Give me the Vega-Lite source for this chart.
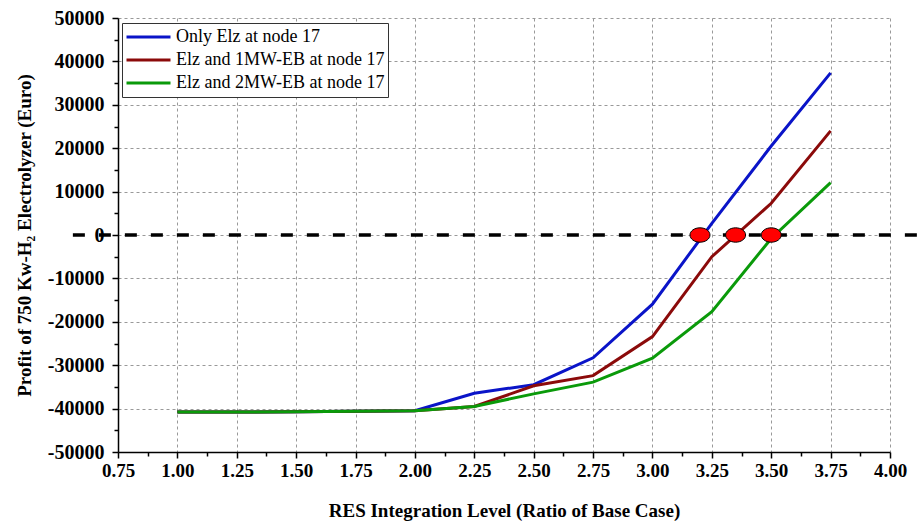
{
  "$schema": "https://vega.github.io/schema/vega-lite/v6.json",
  "autosize": {"type": "none"},
  "padding": {"left": 118, "top": 18, "right": 27, "bottom": 69},
  "width": 772,
  "height": 434,
  "background": "white",
  "config": {
    "view": {"stroke": null},
    "font": "Liberation Serif",
    "axis": {"labelFont": "Liberation Serif", "titleFont": "Liberation Serif"},
    "legend": {"labelFont": "Liberation Serif"}
  },
  "datasets": {
    "lines": [
      {"level": 1.0, "profit": -40800, "series": "Only Elz at node 17"},
      {"level": 1.25, "profit": -40800, "series": "Only Elz at node 17"},
      {"level": 1.5, "profit": -40700, "series": "Only Elz at node 17"},
      {"level": 1.75, "profit": -40600, "series": "Only Elz at node 17"},
      {"level": 2.0, "profit": -40500, "series": "Only Elz at node 17"},
      {"level": 2.25, "profit": -36450, "series": "Only Elz at node 17"},
      {"level": 2.5, "profit": -34500, "series": "Only Elz at node 17"},
      {"level": 2.75, "profit": -28300, "series": "Only Elz at node 17"},
      {"level": 3.0, "profit": -15950, "series": "Only Elz at node 17"},
      {"level": 3.25, "profit": 2700, "series": "Only Elz at node 17"},
      {"level": 3.5, "profit": 20500, "series": "Only Elz at node 17"},
      {"level": 3.75, "profit": 37350, "series": "Only Elz at node 17"},
      {"level": 1.0, "profit": -40800, "series": "Elz and 1MW-EB at node 17"},
      {"level": 1.25, "profit": -40800, "series": "Elz and 1MW-EB at node 17"},
      {"level": 1.5, "profit": -40700, "series": "Elz and 1MW-EB at node 17"},
      {"level": 1.75, "profit": -40600, "series": "Elz and 1MW-EB at node 17"},
      {"level": 2.0, "profit": -40500, "series": "Elz and 1MW-EB at node 17"},
      {"level": 2.25, "profit": -39500, "series": "Elz and 1MW-EB at node 17"},
      {"level": 2.5, "profit": -34750, "series": "Elz and 1MW-EB at node 17"},
      {"level": 2.75, "profit": -32400, "series": "Elz and 1MW-EB at node 17"},
      {"level": 3.0, "profit": -23400, "series": "Elz and 1MW-EB at node 17"},
      {"level": 3.25, "profit": -5000, "series": "Elz and 1MW-EB at node 17"},
      {"level": 3.5, "profit": 7300, "series": "Elz and 1MW-EB at node 17"},
      {"level": 3.75, "profit": 24000, "series": "Elz and 1MW-EB at node 17"},
      {"level": 1.0, "profit": -40800, "series": "Elz and 2MW-EB at node 17"},
      {"level": 1.25, "profit": -40800, "series": "Elz and 2MW-EB at node 17"},
      {"level": 1.5, "profit": -40700, "series": "Elz and 2MW-EB at node 17"},
      {"level": 1.75, "profit": -40600, "series": "Elz and 2MW-EB at node 17"},
      {"level": 2.0, "profit": -40500, "series": "Elz and 2MW-EB at node 17"},
      {"level": 2.25, "profit": -39500, "series": "Elz and 2MW-EB at node 17"},
      {"level": 2.5, "profit": -36600, "series": "Elz and 2MW-EB at node 17"},
      {"level": 2.75, "profit": -33900, "series": "Elz and 2MW-EB at node 17"},
      {"level": 3.0, "profit": -28400, "series": "Elz and 2MW-EB at node 17"},
      {"level": 3.25, "profit": -17650, "series": "Elz and 2MW-EB at node 17"},
      {"level": 3.5, "profit": -800, "series": "Elz and 2MW-EB at node 17"},
      {"level": 3.75, "profit": 12050, "series": "Elz and 2MW-EB at node 17"}
    ],
    "zero": [{"x1": 0.56, "x2": 4.114, "y": 0}],
    "cross": [
      {"level": 3.2, "profit": 0},
      {"level": 3.35, "profit": 0},
      {"level": 3.5, "profit": 0}
    ]
  },
  "resolve": {"axis": {"x": "independent", "y": "independent"}},
  "layer": [
    {
      "data": {"name": "lines"},
      "mark": {"type": "line", "strokeWidth": 3},
      "encoding": {
        "x": {
          "field": "level", "type": "quantitative",
          "scale": {"domain": [0.75, 4.0], "nice": false, "zero": false},
          "axis": {
            "orient": "bottom",
            "values": [0.75, 1.0, 1.25, 1.5, 1.75, 2.0, 2.25, 2.5, 2.75, 3.0, 3.25, 3.5, 3.75, 4.0],
            "format": ".2f",
            "title": "RES Integration Level (Ratio of Base Case)",
            "titleFont": "Liberation Serif",
            "titleFontSize": 19, "titleFontWeight": "bold", "titleColor": "black", "titlePadding": 21,
            "labelFont": "Liberation Serif",
            "labelFontSize": 19, "labelFontWeight": "bold", "labelColor": "black", "labelPadding": 3,
            "labelFlush": false, "labelOverlap": false,
            "domainColor": "black", "domainWidth": 1.5,
            "tickColor": "black", "tickSize": 6, "tickWidth": 1.5,
            "grid": true, "gridColor": "#999999", "gridDash": [3, 3], "gridWidth": 1
          }
        },
        "y": {
          "field": "profit", "type": "quantitative",
          "scale": {"domain": [-50000, 50000], "nice": false},
          "axis": {
            "orient": "left",
            "values": [-50000, -40000, -30000, -20000, -10000, 0, 10000, 20000, 30000, 40000, 50000],
            "labelExpr": "datum.value < 0 ? '-' + abs(datum.value) : '' + datum.value",
            "title": "Profit of 750 Kw-H₂ Electrolyzer (Euro)",
            "titleFont": "Liberation Serif",
            "titleFontSize": 19, "titleFontWeight": "bold", "titleColor": "black", "titlePadding": 13,
            "labelFont": "Liberation Serif",
            "labelFontSize": 20, "labelFontWeight": "bold", "labelColor": "black", "labelPadding": 8,
            "labelFlush": false, "labelOverlap": false,
            "domainColor": "black", "domainWidth": 1.5,
            "tickColor": "black", "tickSize": 6, "tickWidth": 1.5,
            "grid": true, "gridColor": "#999999", "gridDash": [3, 3], "gridWidth": 1
          }
        },
        "color": {
          "field": "series", "type": "nominal",
          "sort": ["Only Elz at node 17", "Elz and 1MW-EB at node 17", "Elz and 2MW-EB at node 17"],
          "scale": {
            "domain": ["Only Elz at node 17", "Elz and 1MW-EB at node 17", "Elz and 2MW-EB at node 17"],
            "range": ["#0a14c8", "#8b0a0a", "#0a9a0a"]
          },
          "legend": {
            "orient": "none", "legendX": 4, "legendY": 5,
            "title": null,
            "fillColor": "white", "strokeColor": "#333333", "padding": 3,
            "symbolType": "stroke", "symbolSize": 1936, "symbolStrokeWidth": 3,
            "clipHeight": 22,
            "labelFont": "Liberation Serif", "labelFontSize": 18, "labelColor": "black",
            "labelOffset": 4, "rowPadding": 1, "labelLimit": 400
          }
        },
        "order": {"field": "level", "type": "quantitative"}
      }
    },
    {
      "data": {"name": "zero"},
      "mark": {"type": "rule", "color": "black", "strokeWidth": 3.5, "strokeDash": [12, 14]},
      "encoding": {
        "x": {
          "field": "x1", "type": "quantitative",
          "axis": {
            "orient": "bottom",
            "values": [0.875, 1.125, 1.375, 1.625, 1.875, 2.125, 2.375, 2.625, 2.875, 3.125, 3.375, 3.625, 3.875],
            "labels": false, "domain": false, "grid": false, "title": null,
            "tickColor": "black", "tickSize": 4, "tickWidth": 1.5
          }
        },
        "x2": {"field": "x2"},
        "y": {
          "field": "y", "type": "quantitative",
          "axis": {
            "orient": "left",
            "values": [-45000, -35000, -25000, -15000, -5000, 5000, 15000, 25000, 35000, 45000],
            "labels": false, "domain": false, "grid": false, "title": null,
            "tickColor": "black", "tickSize": 4, "tickWidth": 1.5
          }
        }
      }
    },
    {
      "data": {"name": "cross"},
      "mark": {
        "type": "point", "filled": true, "fill": "#ff0000", "stroke": "black", "strokeWidth": 1,
        "opacity": 1, "size": 400,
        "shape": "M -1 0 A 1 0.72 0 1 0 1 0 A 1 0.72 0 1 0 -1 0 Z"
      },
      "encoding": {
        "x": {"field": "level", "type": "quantitative", "axis": null},
        "y": {"field": "profit", "type": "quantitative", "axis": null}
      }
    }
  ]
}
